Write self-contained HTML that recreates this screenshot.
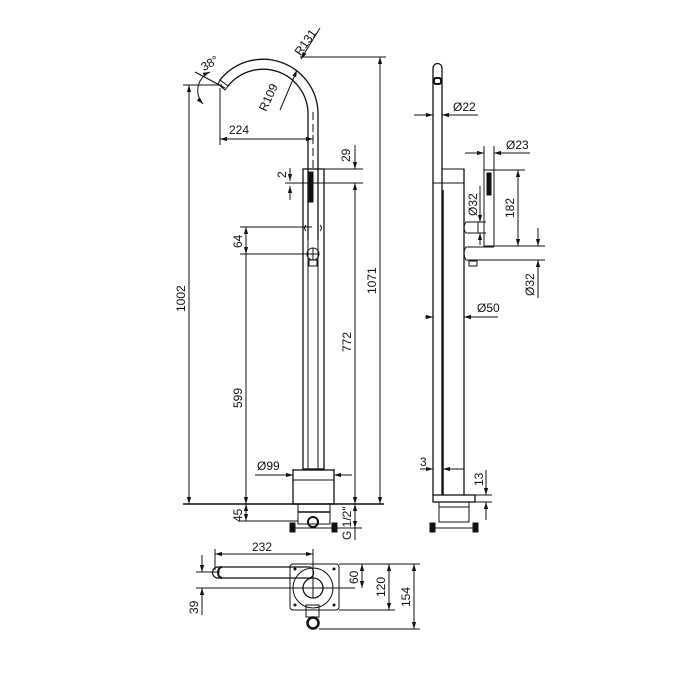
<!DOCTYPE html>
<html><head><meta charset="utf-8"><style>
html,body{margin:0;padding:0;background:#fff;}
svg{display:block;}
text{font-family:"Liberation Sans",sans-serif;font-size:12px;fill:#111;}
</style></head><body>
<svg width="700" height="700" viewBox="0 0 700 700" xmlns="http://www.w3.org/2000/svg">
<defs>
<marker id="a" viewBox="0 0 10 10" refX="10" refY="5" markerWidth="7" markerHeight="7" orient="auto-start-reverse"><path d="M0,2 L10,5 L0,8 z" fill="#111"/></marker>
</defs>
<g stroke="#111" stroke-width="1" fill="none">
<!-- FRONT VIEW -->
<!-- spout arc -->
<path d="M318,240 L318,112 A55,55 0 0 0 220,80" stroke-width="1.3"/>
<path d="M308,240 L308,112 A45,45 0 0 0 228,86" stroke-width="1.3"/>
<path d="M220,80 L228,86 L225,90 L218,84 z"/>
<line x1="313" y1="112" x2="313" y2="168" stroke-dasharray="8,4"/>
<!-- column -->
<rect x="303" y="169" width="21" height="300" stroke-width="1.3"/>
<line x1="308" y1="169" x2="308" y2="469"/>
<line x1="318" y1="169" x2="318" y2="469"/>
<!-- hand shower -->
<rect x="308" y="172" width="5" height="30" fill="#111"/>
<path d="M306,225 q-3,3 0,6 M320,225 q3,3 0,6" />
<circle cx="313" cy="254" r="6"/>
<line x1="307" y1="254" x2="319" y2="254"/><line x1="313" y1="248" x2="313" y2="260"/>
<rect x="309" y="260" width="8" height="6"/>
<!-- base -->
<rect x="293" y="470" width="41" height="34" stroke-width="1.3"/>
<line x1="293" y1="480" x2="334" y2="480"/>
<line x1="183" y1="504" x2="384" y2="504" stroke-width="1.5"/>
<rect x="298" y="504" width="32" height="20"/>
<line x1="298" y1="512" x2="330" y2="512" stroke-width="1.5"/>
<circle cx="313" cy="522" r="5" stroke-width="2"/>
<line x1="290" y1="528" x2="336" y2="528"/>
<rect x="290" y="523" width="5" height="9" fill="#111"/><rect x="332" y="523" width="5" height="9" fill="#111"/>
<!-- dims front -->
<line x1="189" y1="85" x2="189" y2="504" marker-start="url(#a)" marker-end="url(#a)"/>
<line x1="183" y1="85" x2="222" y2="85"/>
<path d="M210,72 A20,20 0 0 0 203,104" marker-start="url(#a)" marker-end="url(#a)"/>
<line x1="195" y1="72" x2="225" y2="88"/>
<line x1="220" y1="88" x2="220" y2="145"/>
<line x1="220" y1="139" x2="313" y2="139" marker-start="url(#a)" marker-end="url(#a)"/>
<line x1="313" y1="135" x2="313" y2="142"/>
<line x1="301" y1="59" x2="320" y2="28" marker-start="url(#a)"/>
<line x1="280" y1="110" x2="297" y2="70" marker-end="url(#a)"/>
<line x1="300" y1="57" x2="386" y2="57"/>
<line x1="380" y1="57" x2="380" y2="504" marker-start="url(#a)" marker-end="url(#a)"/>
<line x1="324" y1="169" x2="363" y2="169"/>
<line x1="285" y1="183" x2="363" y2="183"/>
<line x1="355" y1="145" x2="355" y2="169" marker-end="url(#a)"/>
<line x1="355" y1="183" x2="355" y2="504" marker-start="url(#a)" marker-end="url(#a)"/>
<line x1="290" y1="168" x2="290" y2="181" marker-end="url(#a)"/>
<line x1="290" y1="186" x2="290" y2="200" marker-start="url(#a)"/>
<line x1="240" y1="227" x2="312" y2="227"/>
<line x1="240" y1="254" x2="310" y2="254"/>
<line x1="246" y1="227" x2="246" y2="254" marker-start="url(#a)" marker-end="url(#a)"/>
<line x1="246" y1="254" x2="246" y2="504" marker-end="url(#a)"/>
<line x1="255" y1="475" x2="293" y2="475" marker-end="url(#a)"/>
<line x1="334" y1="475" x2="352" y2="475" marker-start="url(#a)"/>
<line x1="293" y1="469" x2="293" y2="478"/><line x1="334" y1="469" x2="334" y2="478"/>
<line x1="240" y1="521" x2="298" y2="521"/>
<line x1="246" y1="504" x2="246" y2="521" marker-start="url(#a)" marker-end="url(#a)"/>
<line x1="336" y1="528" x2="362" y2="528"/>
<line x1="355" y1="504" x2="355" y2="528" marker-start="url(#a)" marker-end="url(#a)"/>
<line x1="355" y1="528" x2="355" y2="540"/>

<!-- SIDE VIEW -->
<path d="M433,495 L433,68 A4.5,4.5 0 0 1 442,68 L442,495" stroke-width="1.3"/>
<rect x="434" y="78" width="7" height="6" rx="2" stroke-width="2"/>
<line x1="433" y1="183" x2="442" y2="183"/>
<line x1="464" y1="169" x2="464" y2="495" stroke-width="1.3"/>
<rect x="442" y="169" width="22" height="14"/>
<line x1="442" y1="183" x2="442" y2="495"/>
<line x1="443" y1="190" x2="443" y2="495" stroke-width="1.5"/>
<rect x="484" y="170" width="10" height="76"/>
<rect x="487" y="173" width="4" height="22" fill="#111"/>
<path d="M486,222 L466,222 q-4,6 0,11 L486,233" />
<line x1="478" y1="222" x2="478" y2="233"/>
<path d="M494,247 L466,247 q-4,6 0,13 L494,260" />
<rect x="469" y="261" width="8" height="5"/>
<rect x="433" y="495" width="42" height="7" stroke-width="1.3"/>
<rect x="439" y="502" width="30" height="20"/>
<line x1="439" y1="507" x2="469" y2="507"/>
<line x1="432" y1="528" x2="478" y2="528"/>
<rect x="430" y="523" width="5" height="9" fill="#111"/><rect x="473" y="523" width="5" height="9" fill="#111"/>
<!-- side dims -->
<line x1="414" y1="115" x2="433" y2="115" marker-end="url(#a)"/>
<line x1="442" y1="115" x2="478" y2="115" marker-start="url(#a)"/>
<line x1="465" y1="153" x2="484" y2="153" marker-end="url(#a)"/>
<line x1="494" y1="153" x2="530" y2="153" marker-start="url(#a)"/>
<line x1="484" y1="146" x2="484" y2="170"/><line x1="494" y1="146" x2="494" y2="170"/>
<line x1="494" y1="170" x2="525" y2="170"/>
<line x1="494" y1="246" x2="545" y2="246"/>
<line x1="494" y1="260" x2="545" y2="260"/>
<line x1="518" y1="170" x2="518" y2="246" marker-start="url(#a)" marker-end="url(#a)"/>
<line x1="538" y1="228" x2="538" y2="246" marker-end="url(#a)"/>
<line x1="538" y1="260" x2="538" y2="298" marker-start="url(#a)"/>
<line x1="480" y1="186" x2="480" y2="222" marker-end="url(#a)"/>
<line x1="480" y1="233" x2="480" y2="245" marker-start="url(#a)"/>
<line x1="425" y1="317" x2="433" y2="317" marker-end="url(#a)"/>
<line x1="464" y1="317" x2="498" y2="317" marker-start="url(#a)"/>
<line x1="420" y1="469" x2="433" y2="469" marker-end="url(#a)"/>
<line x1="443" y1="469" x2="464" y2="469" marker-start="url(#a)"/>
<line x1="475" y1="495" x2="492" y2="495"/><line x1="475" y1="502" x2="492" y2="502"/>
<line x1="486" y1="470" x2="486" y2="495" marker-end="url(#a)"/>
<line x1="486" y1="502" x2="486" y2="520" marker-start="url(#a)"/>

<!-- PLAN VIEW -->
<rect x="290" y="564" width="49" height="46" rx="3"/>
<circle cx="313" cy="588" r="20"/>
<circle cx="313" cy="588" r="10" stroke-width="1.3"/>
<line x1="303" y1="588" x2="323" y2="588"/><line x1="313" y1="578" x2="313" y2="598"/>
<path d="M218,567 L310,567 A6,6 0 0 1 310,578 L218,578 A5.5,5.5 0 0 1 218,567 z" stroke-width="1.2"/>
<path d="M222,567 a4,5.5 0 0 0 0,11" stroke-width="2"/>
<rect x="306" y="605" width="13" height="12"/>
<circle cx="313" cy="623" r="5.5" stroke-width="2.5"/>
<circle cx="295" cy="569" r="1" fill="#111"/><circle cx="334" cy="569" r="1" fill="#111"/>
<circle cx="295" cy="605" r="1" fill="#111"/><circle cx="334" cy="605" r="1" fill="#111"/>
<line x1="215" y1="554" x2="313" y2="554" marker-start="url(#a)" marker-end="url(#a)"/>
<line x1="215" y1="549" x2="215" y2="570"/><line x1="313" y1="549" x2="313" y2="580"/>
<line x1="196" y1="572" x2="220" y2="572"/>
<line x1="196" y1="588" x2="355" y2="588"/>
<line x1="202" y1="555" x2="202" y2="572" marker-end="url(#a)"/>
<line x1="202" y1="588" x2="202" y2="615" marker-start="url(#a)"/>
<line x1="339" y1="564" x2="420" y2="564"/>
<line x1="339" y1="610" x2="395" y2="610"/>
<line x1="319" y1="629" x2="420" y2="629"/>
<line x1="362" y1="564" x2="362" y2="588" marker-start="url(#a)" marker-end="url(#a)"/>
<line x1="389" y1="564" x2="389" y2="610" marker-start="url(#a)" marker-end="url(#a)"/>
<line x1="414" y1="564" x2="414" y2="629" marker-start="url(#a)" marker-end="url(#a)"/>
</g>
<!-- labels -->
<text x="200" y="67" transform="rotate(-30 210 62)">38°</text>
<text x="291" y="52" transform="rotate(-55 300 45)">R131</text>
<text x="250" y="107" transform="rotate(-65 262 97)">R109</text>
<text x="229" y="134">224</text>
<text x="0" y="0" transform="translate(350,162) rotate(-90)">29</text>
<text x="0" y="0" transform="translate(286,178) rotate(-90)">2</text>
<text x="0" y="0" transform="translate(242,248) rotate(-90)">64</text>
<text x="0" y="0" transform="translate(185,312) rotate(-90)">1002</text>
<text x="0" y="0" transform="translate(376,294) rotate(-90)">1071</text>
<text x="0" y="0" transform="translate(351,352) rotate(-90)">772</text>
<text x="0" y="0" transform="translate(242,408) rotate(-90)">599</text>
<text x="257" y="470">Ø99</text>
<text x="0" y="0" transform="translate(242,522) rotate(-90)">45</text>
<text x="0" y="0" transform="translate(351,540) rotate(-90)">G 1/2"</text>
<text x="453" y="111">Ø22</text>
<text x="506" y="149">Ø23</text>
<text x="0" y="0" transform="translate(514,218) rotate(-90)">182</text>
<text x="0" y="0" transform="translate(477,216) rotate(-90)">Ø32</text>
<text x="0" y="0" transform="translate(534,296) rotate(-90)">Ø32</text>
<text x="477" y="312">Ø50</text>
<text x="420" y="466">3</text>
<text x="0" y="0" transform="translate(483,486) rotate(-90)">13</text>
<text x="252" y="551">232</text>
<text x="0" y="0" transform="translate(198,614) rotate(-90)">39</text>
<text x="0" y="0" transform="translate(358,584) rotate(-90)">60</text>
<text x="0" y="0" transform="translate(385,597) rotate(-90)">120</text>
<text x="0" y="0" transform="translate(410,607) rotate(-90)">154</text>
</svg>
</body></html>
